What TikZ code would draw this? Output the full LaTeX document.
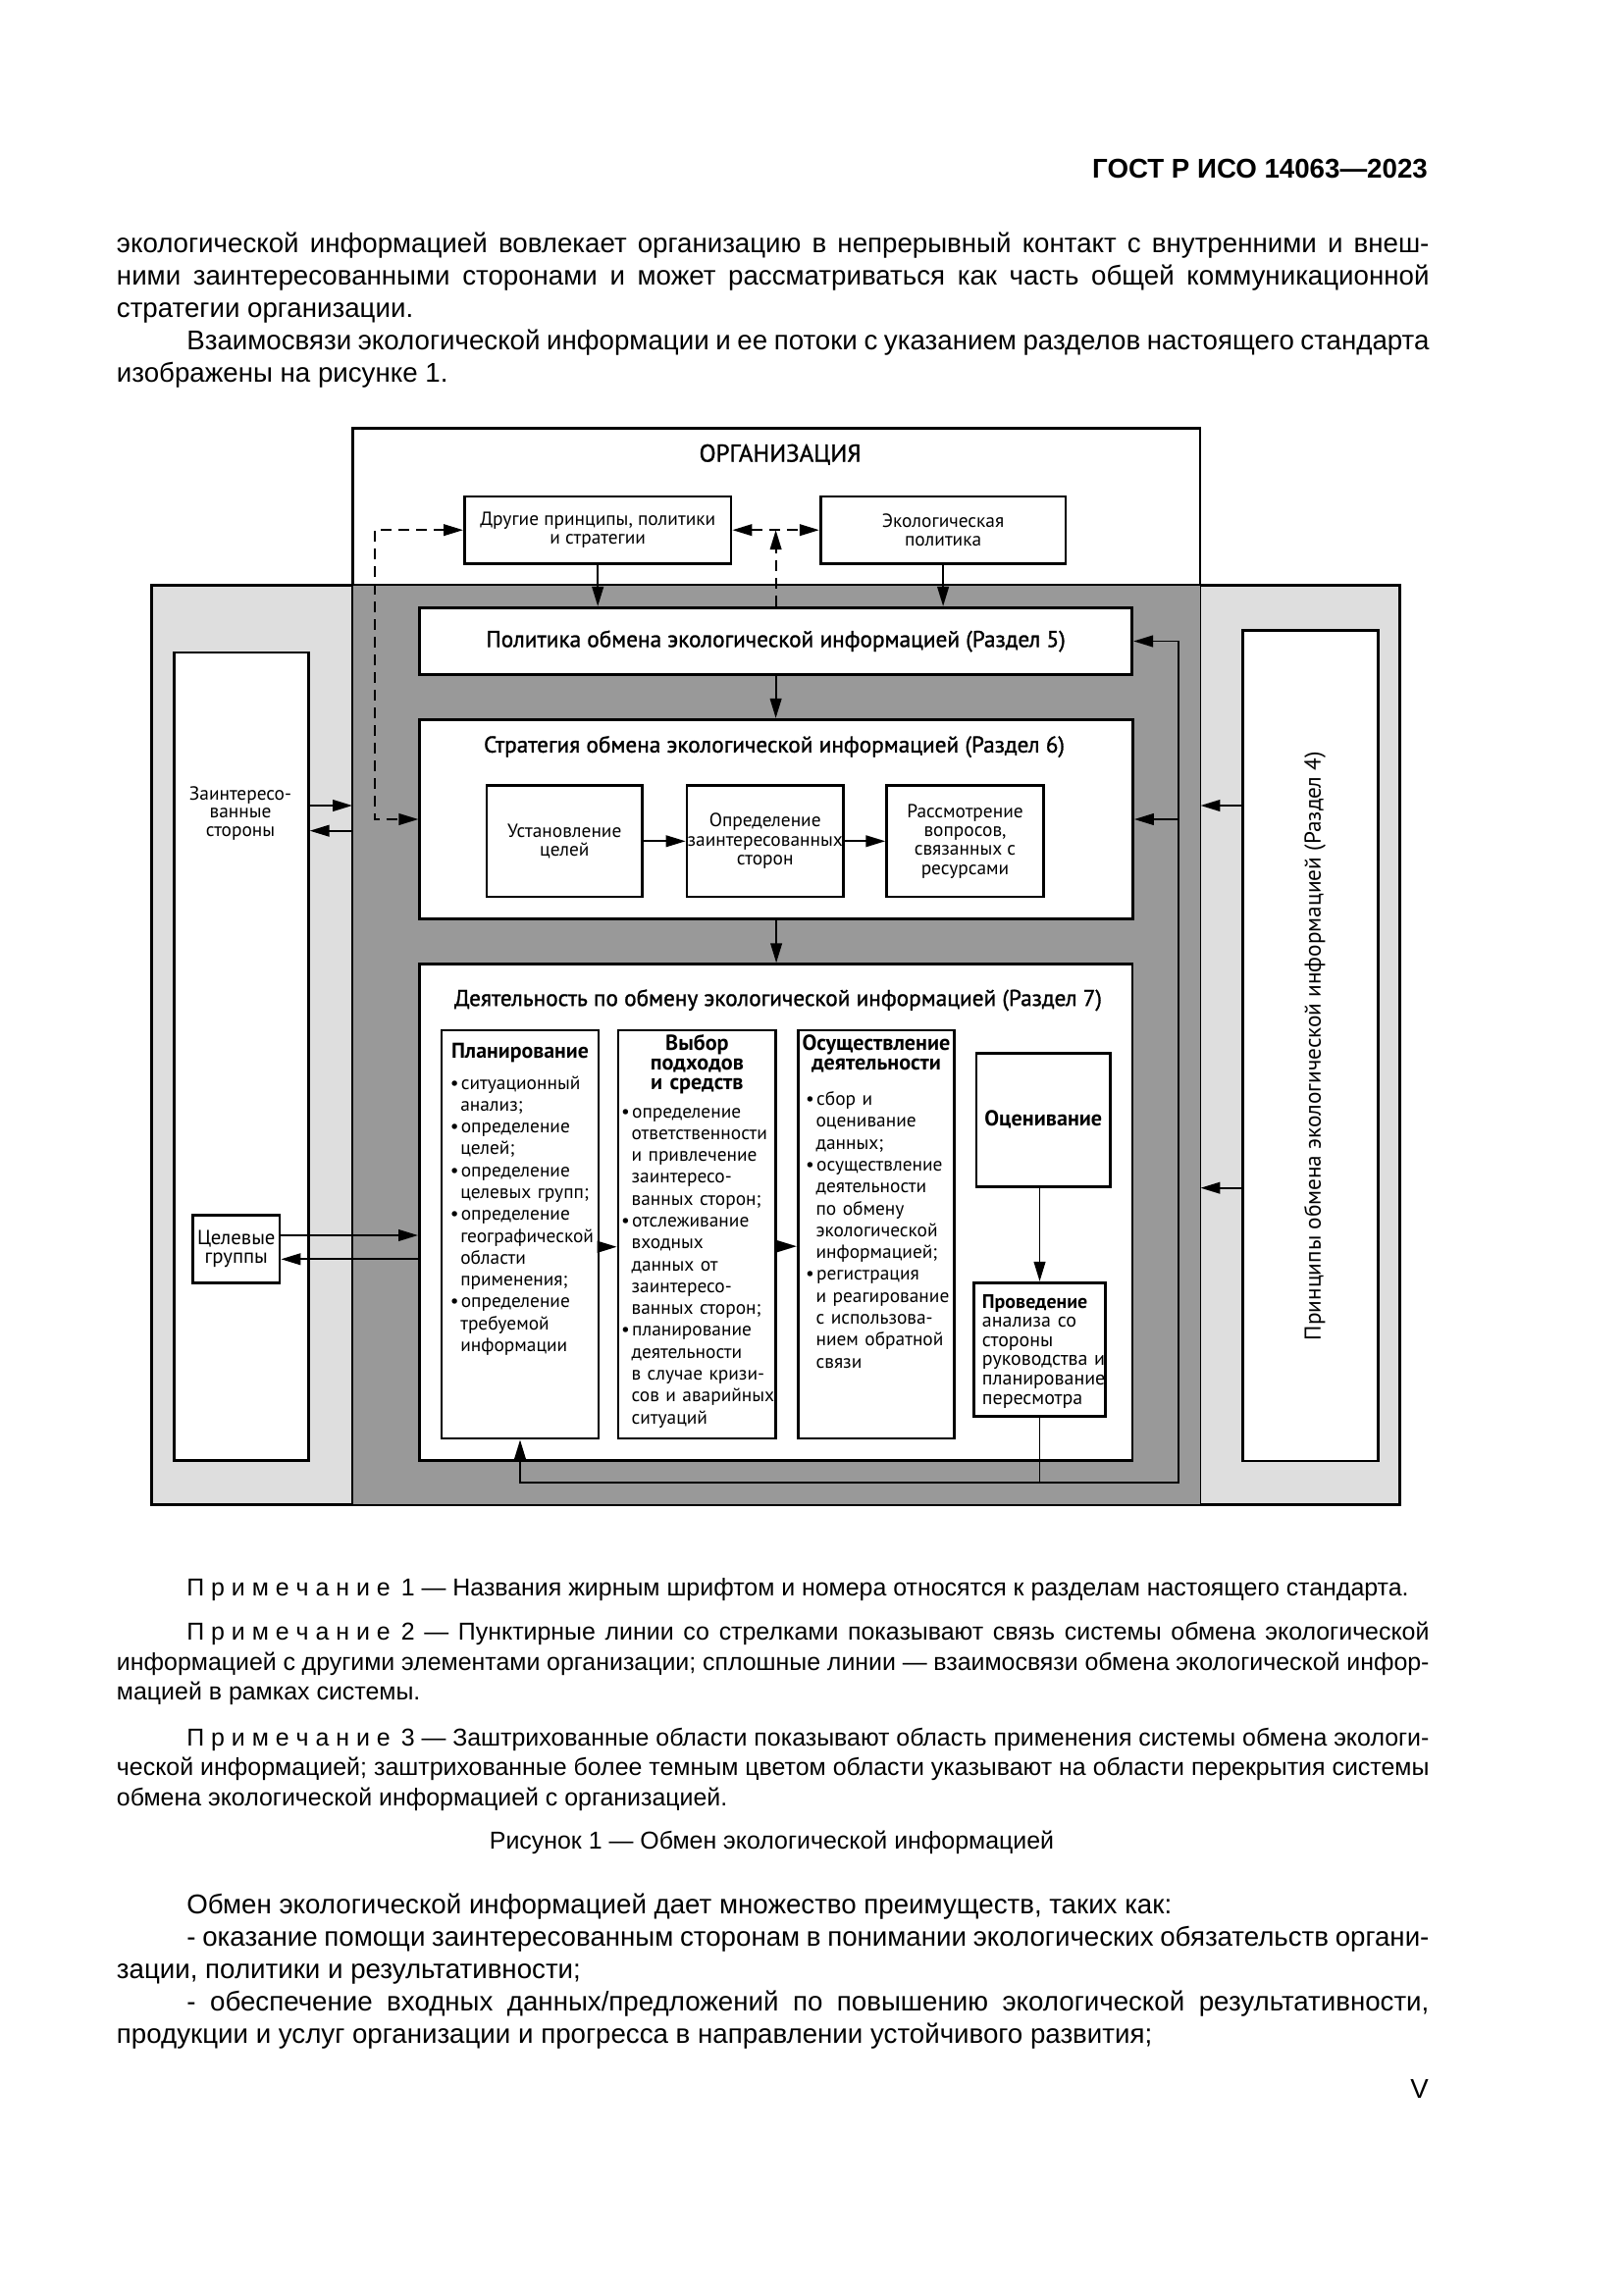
\documentclass[tikz,border=0pt]{standalone}
\usepackage{fontspec}
\setmainfont{Liberation Sans}
\newfontfamily\dfont{PT Sans}
\newfontfamily\dfontm{PT Sans}[FakeBold=1.2]
\usetikzlibrary{arrows.meta}

\newcommand{\pxl}{0.3612pt}
\newcommand{\bitem}{\makebox[4pt][l]{•}}
\newcommand{\bcont}{\hspace*{3.8pt}}
\newcommand{\primech}{П\kern2.5pt р\kern2.5pt и\kern2.5pt м\kern2.5pt е\kern2.5pt ч\kern2.5pt а\kern2.5pt н\kern2.5pt и\kern2.5pt е}
\newcommand{\justset}{\tolerance=10000\hyphenpenalty=10000\spaceskip=0.278em plus 0.3em minus 0.12em\relax}
\definecolor{lightgr}{RGB}{222,222,222}
\definecolor{darkgr}{RGB}{153,153,153}

\tikzset{every picture/.style={line width=0.7pt},
  pbox/.style 2 args={draw, fill=white, line width=1pt, inner sep=0pt, align=center, minimum width=#1*\pxl, minimum height=#2*\pxl},
  arr/.style={-{Triangle[length=7.2pt,width=4.2pt]}},
  darr/.style={{Triangle[length=7.2pt,width=4.2pt]}-{Triangle[length=7.2pt,width=4.2pt]}},
  dline/.style={dash pattern=on 4pt off 2.5pt},
  lbl/.style={font=\dfont\fontsize{7}{7}\selectfont, align=center},
  ttl/.style={font=\dfontm\fontsize{8.4}{10}\selectfont},
  bul/.style={font=\dfont\fontsize{7}{8.05}\selectfont, text width=200*\pxl, align=left, inner sep=0pt, anchor=base west},
  headb/.style={font=\dfont\bfseries\fontsize{8}{7.2}\selectfont, text width=170*\pxl, align=center, inner sep=0pt, anchor=base},
  bodyt/.style={font=\fontsize{10}{11.88}\selectfont, text width=483.1pt, align=justify, inner sep=0pt, anchor=base west},
  notet/.style={font=\fontsize{9}{11.1}\selectfont, text width=483.1pt, align=justify, inner sep=0pt, anchor=base west}
}

\begin{document}
\begin{tikzpicture}[x=0.3612pt,y=-0.3612pt]
        \useasboundingbox (0,0) rectangle (1654,2339);
        \fill[white] (0,0) rectangle (1654,2339);
        % page text above the figure
        \node[anchor=east, font=\bfseries\fontsize{10}{12}\selectfont] (hdr) at (1465,171.7) {ГОСТ Р ИСО 14063—2023};
        \node[bodyt] (par1) at (118,258) {\justset экологической информацией вовлекает организацию в непрерывный контакт с внутренними и внеш-\linebreak ними заинтересованными сторонами и может рассматриваться как часть общей коммуникационной\linebreak стратегии организации.\par\hspace*{25.8pt}Взаимосвязи экологической информации и ее потоки с указанием разделов настоящего стандарта\linebreak изображены на рисунке 1.};
        % regions
        \node[draw, fill=lightgr, inner sep=0pt, minimum width=1270.6*\pxl, minimum height=936*\pxl] (sys) at (790.7,1065.3) {};
        \node[draw, inner sep=0pt, minimum width=862.5*\pxl, minimum height=1096*\pxl] (org) at (791.25,985.3) {};
        \fill[darkgr] (org.west |- sys.north) rectangle (org.south east);
        \draw (org.north west) rectangle (org.south east);
        \draw (sys.north west) rectangle (sys.south east);
        \node[font=\dfontm\fontsize{9}{10}\selectfont] (orgt) at (795,463.3) {ОРГАНИЗАЦИЯ};
        % boxes
        \node[pbox={271.6}{68.3}, lbl] (drug) at (609.2,540.2) {Другие принципы, политики\\и стратегии};
        \node[pbox={249.8}{68.3}, lbl] (eco) at (961.1,540.2) {Экологическая\\политика};
        \node[pbox={726.2}{68.4}, ttl] (polit) at (790.6,653.5) {Политика обмена экологической информацией (Раздел 5)};
        \node[pbox={726.8}{203.4}] (strat) at (791.1,835) {};
        \node[ttl] (stratt) at (789,761) {Стратегия обмена экологической информацией (Раздел 6)};
        \node[pbox={158.5}{113.3}, lbl] (ust) at (575.3,857.3) {Установление\\целей};
        \node[pbox={159.3}{113.3}, lbl] (opr) at (779.7,857.3) {Определение\\заинтересованных\\сторон};
        \node[pbox={159.7}{113.3}, lbl] (ras) at (983.5,857.3) {Рассмотрение\\вопросов,\\связанных с\\ресурсами};
        \node[pbox={726.7}{505.6}] (akt) at (790.7,1235.5) {};
        \node[ttl] (aktt) at (793,1019.3) {Деятельность по обмену экологической информацией (Раздел 7)};
        \node[pbox={160}{416}] (plan) at (530,1258) {};
        \node[pbox={160.7}{416}] (vyb) at (710.4,1258) {};
        \node[pbox={159.4}{416}] (osu) at (893,1258) {};
        \node[pbox={136.7}{136}, font=\dfont\bfseries\fontsize{8}{9}\selectfont] (ocen) at (1063.3,1141.3) {Оценивание};
        \node[pbox={134.4}{136}] (prov) at (1059.5,1375.3) {};
        \node[pbox={136.7}{823.3}] (zain) at (245.9,1076.7) {};
        \node[lbl, font=\dfont\fontsize{7}{6.8}\selectfont] (zaint) at (245,829) {Заинтересо-\\ванные\\стороны};
        \node[pbox={88.3}{69.4}, lbl, font=\dfont\fontsize{7.5}{7.1}\selectfont] (celev) at (240.8,1273) {Целевые\\группы};
        \node[pbox={138.3}{846.7}] (princ) at (1335.6,1065.7) {};
        \node[ttl, font=\dfont\fontsize{8.4}{10}\selectfont, rotate=90] (princt) at (1340,1066) {Принципы обмена экологической информацией (Раздел 4)};
        % activity columns
        \node[headb, font=\dfont\bfseries\fontsize{7.9}{7.2}\selectfont] (planh) at (530,1078) {Планирование};
        \node[bul] (planb) at (457.8,1110) {\bitem ситуационный\\\bcont анализ;\\\bitem определение\\\bcont целей;\\\bitem определение\\\bcont целевых групп;\\\bitem определение\\\bcont географической\\\bcont области\\\bcont применения;\\\bitem определение\\\bcont требуемой\\\bcont информации};
        \node[headb] (vybh) at (710.4,1070.5) {Выбор\\подходов\\и средств};
        \node[bul] (vybb) at (632.1,1139) {\bitem определение\\\bcont ответственности\\\bcont и привлечение\\\bcont заинтересо-\\\bcont ванных сторон;\\\bitem отслеживание\\\bcont входных\\\bcont данных от\\\bcont заинтересо-\\\bcont ванных сторон;\\\bitem планирование\\\bcont деятельности\\\bcont в случае кризи-\\\bcont сов и аварийных\\\bcont ситуаций};
        \node[headb] (osuh) at (893,1070.5) {Осуществление\\деятельности};
        \node[bul] (osub) at (820.1,1126.7) {\bitem сбор и\\\bcont оценивание\\\bcont данных;\\\bitem осуществление\\\bcont деятельности\\\bcont по обмену\\\bcont экологической\\\bcont информацией;\\\bitem регистрация\\\bcont и реагирование\\\bcont с использова-\\\bcont нием обратной\\\bcont связи};
        \node[bul, font=\dfont\fontsize{7.2}{7.1}\selectfont] (provt) at (1000,1333) {\textbf{Проведение}\\анализа со\\стороны\\руководства и\\планирование\\пересмотра};
        % levels for connectors
        \coordinate (za) at (0,821);
        \coordinate (zb) at (0,846.7);
        \coordinate (ca) at (0,1259);
        \coordinate (cb) at (0,1283.3);
        \coordinate (pb) at (0,1210.7);
        \coordinate (dl) at (381.6,0);
        \coordinate (fbc) at (1201,1510.7);
        % dashed links to the organisation
        \draw[dline, darr] (drug.east) -- (eco.west);
        \draw[dline, arr] (polit.north) -- (polit.north |- drug.east);
        \draw[dline, darr] (drug.west) -| (dl |- strat.west) -- (strat.west);
        % solid links
        \draw[arr] (drug.south) -- (drug.south |- polit.north);
        \draw[arr] (eco.south) -- (eco.south |- polit.north);
        \draw[arr] (polit.south) -- (polit.south |- strat.north);
        \draw[arr] (strat.south) -- (strat.south |- akt.north);
        \draw[arr] (ust) -- (opr);
        \draw[arr] (opr) -- (ras);
        \draw[arr] ([yshift=-4.6pt]plan.east) -- ([yshift=-4.6pt]vyb.west);
        \draw[arr] ([yshift=-4.4pt]vyb.east) -- ([yshift=-4.4pt]osu.west);
        \draw[arr] (ocen.south -| prov.north) -- (prov.north);
        \draw[arr] (zain.east |- za) -- (org.west |- za);
        \draw[arr] (org.west |- zb) -- (zain.east |- zb);
        \draw[arr] (celev.east |- ca) -- (akt.west |- ca);
        \draw[arr] (akt.west |- cb) -- (celev.east |- cb);
        \draw[arr] (princ.west |- za) -- (org.east |- za);
        \draw[arr] (princ.west |- pb) -- (org.east |- pb);
        % feedback loop
        \draw[arr] (prov.south) -- (prov.south |- fbc) -| (plan.south);
        \draw[arr] (prov.south |- fbc) -- (fbc) |- (polit.east);
        \draw[arr] (fbc |- strat.east) -- (strat.east);
        % page text below the figure
        \node[notet] (note1) at (118,1626) {\hspace*{25.8pt}\primech\hspace{4pt}1 — Названия жирным шрифтом и номера относятся к разделам настоящего стандарта.};
        \node[notet] (note2) at (118,1671.5) {\justset\hspace*{25.8pt}\primech\hspace{4pt}2 — Пунктирные линии со стрелками показывают связь системы обмена экологической\linebreak информацией с другими элементами организации; сплошные линии — взаимосвязи обмена экологической инфор-\linebreak мацией в рамках системы.};
        \node[notet] (note3) at (118,1779) {\justset\hspace*{25.8pt}\primech\hspace{4pt}3 — Заштрихованные области показывают область применения системы обмена экологи-\linebreak ческой информацией; заштрихованные более темным цветом области указывают на области перекрытия системы\linebreak обмена экологической информацией с организацией.};
        \node[anchor=base, font=\fontsize{9}{11}\selectfont] (capt) at (786.5,1884) {Рисунок 1 — Обмен экологической информацией};
        \node[bodyt] (par2) at (118,1950.5) {\justset\hspace*{25.8pt}Обмен экологической информацией дает множество преимуществ, таких как:\par\hspace*{25.8pt}\mbox{-} оказание помощи заинтересованным сторонам в понимании экологических обязательств органи-\linebreak зации, политики и результативности;\par\hspace*{25.8pt}\mbox{-} обеспечение входных данных/предложений по повышению экологической результативности,\linebreak продукции и услуг организации и прогресса в направлении устойчивого развития;};
        \node[anchor=base east, font=\fontsize{10}{12}\selectfont] (pgno) at (1466,2138) {V};
\end{tikzpicture}
\end{document}
